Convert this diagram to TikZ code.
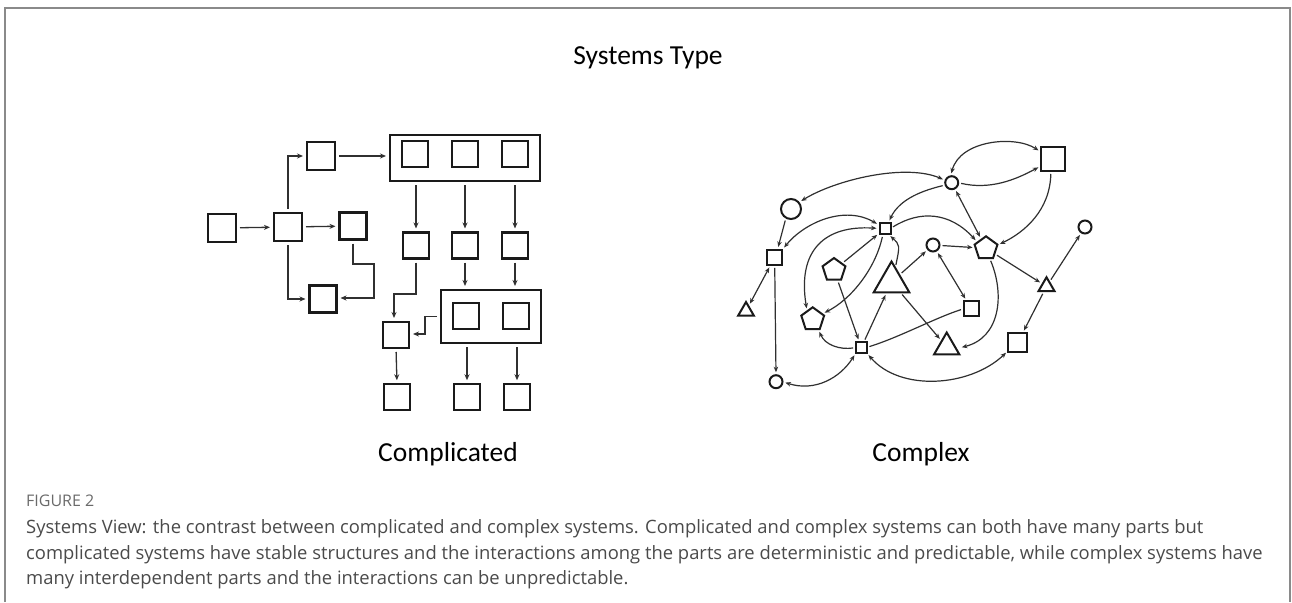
\documentclass[tikz,border=0pt]{standalone}
\usepackage{fontspec}
\setmainfont{Carlito}
\newfontfamily\capfont{Open Sans}
\usetikzlibrary{arrows.meta,shapes.geometric,calc}
\definecolor{ink}{HTML}{1A1A1A}
\definecolor{wire}{HTML}{303030}
\definecolor{framegray}{HTML}{8A8A8A}
\definecolor{captext}{HTML}{4A4A4A}
\definecolor{capgray}{HTML}{6A6A6A}

\begin{document}
\begin{tikzpicture}[x=1pt,y=-1pt,
  sq/.style={draw=ink,line width=2.4pt,minimum size=#1,inner sep=0pt,outer sep=0pt},
  grp/.style={draw=ink,line width=2.4pt,inner sep=0pt,outer sep=0pt},
  flow/.style={draw=wire,line width=1.3pt,shorten <=4pt,shorten >=4pt,
    -{Stealth[length=6pt,width=5pt]}},
  csq/.style={draw=ink,line width=2pt,minimum size=#1,inner sep=0pt,outer sep=0pt},
  ccirc/.style={draw=ink,line width=2pt,circle,minimum size=#1,inner sep=0pt,outer sep=0pt},
  cpent/.style={draw=ink,line width=2pt,regular polygon,regular polygon sides=5,
    minimum size=#1,inner sep=0pt,outer sep=0pt},
  ctri/.style={draw=ink,line width=2pt,regular polygon,regular polygon sides=3,
    minimum size=#1,inner sep=0pt,outer sep=0pt},
  rel/.style={draw=wire,line width=1.2pt,shorten <=3pt,shorten >=3pt,
    -{Stealth[length=5.5pt,width=4.5pt]}},
  mutual/.style={draw=wire,line width=1.2pt,shorten <=3pt,shorten >=3pt,
    {Stealth[length=5.5pt,width=4.5pt]}-{Stealth[length=5.5pt,width=4.5pt]}},
  tie/.style={draw=wire,line width=1.2pt,shorten <=3pt,shorten >=3pt},
  heading/.style={font=\fontsize{27.5}{33}\selectfont,text=black,inner sep=0pt,anchor=base},
  capline/.style={font=\capfont\fontsize{18.4}{22}\selectfont,text=captext,anchor=base west,inner sep=0pt}
]
\useasboundingbox (0,0) rectangle (1292,602);

% outer frame
\draw[framegray,line width=1.2pt] (5,602) -- (5,8) -- (1290,8) -- (1290,602);

\node[heading] (title) at (648,65) {Systems Type};

% ---------------- complicated system ----------------
\node[sq=28pt] (A) at (222,228) {};
\node[sq=28pt] (B) at (288,227) {};
\node[sq=27pt] (C) at (353,226) {};
\node[sq=28pt] (D) at (321,156) {};
\node[sq=27pt] (E) at (323,299) {};

\node[grp,minimum width=150pt,minimum height=46pt] (G1) at (465,158) {};
\node[sq=26pt] (g1a) at (415,154) {};
\node[sq=26pt] (g1b) at (465,154) {};
\node[sq=26pt] (g1c) at (515,154) {};

\node[sq=26pt] (r1) at (416,245.5) {};
\node[sq=26pt] (r2) at (465,245.5) {};
\node[sq=26pt] (r3) at (515,245.5) {};

\node[grp,minimum width=100pt,minimum height=53pt] (G2) at (491,316.5) {};
\node[sq=26pt] (h1) at (466,316) {};
\node[sq=26pt] (h2) at (516,316) {};

\node[sq=26pt] (F) at (396,335) {};
\node[sq=25.5pt] (b1) at (397,397) {};
\node[sq=25.5pt] (b2) at (467,397) {};
\node[sq=25.5pt] (b3) at (517,397) {};

\draw[flow] (A) -- (B);
\draw[flow] (B) -- (C);
\draw[flow] (B.north) |- (D.west);
\draw[flow] (B.south) |- (E.west);
\draw[flow] (C.south) -- (353,264) -- (374,264) -- (374,298) -- (E.east |- 0,298);
\draw[flow] (D.east) -- (D.east -| G1.west);
\draw[flow] (G1.south -| r1.north) -- (r1.north);
\draw[flow] (G1.south -| r2.north) -- (r2.north);
\draw[flow] (G1.south -| r3.north) -- (r3.north);
\draw[flow] (r2.south) -- (G2.north -| r2.south);
\draw[flow] (r3.south) -- (G2.north -| r3.south);
\draw[flow] (r1.south) -- (416,294) -- (394,294) -- (F.north -| 394,0);
\draw[flow] (G2.west) -- (425,316.5) -- (425,334) -- (F.east |- 0,334);
\draw[flow] (F.south) -- (b1.north);
\draw[flow] (G2.south -| b2.north) -- (b2.north);
\draw[flow] (G2.south -| b3.north) -- (b3.north);

\node[heading] (lblA) at (448,461) {Complicated};

% ---------------- complex system ----------------
\node[ccirc=20pt] (cL) at (791,209) {};
\node[ccirc=13pt] (cT) at (951.7,182.7) {};
\node[ccirc=13pt] (cM) at (933,245) {};
\node[ccirc=13pt] (cR) at (1085,227) {};
\node[ccirc=13pt] (cB) at (776,381.7) {};

\node[csq=15pt] (sL) at (774.7,257.3) {};
\node[csq=11pt] (sT) at (885,228.5) {};
\node[csq=15pt] (sM) at (971.3,308.7) {};
\node[csq=10.5pt] (sB) at (861.3,347.5) {};
\node[csq=24pt] (sQ) at (1053,159) {};
\node[csq=19pt] (sR) at (1017.7,342.7) {};

\node[cpent=24pt] (pU) at (834,270) {};
\node[cpent=24pt] (pL) at (812.7,319.3) {};
\node[cpent=24pt] (pR) at (986,248.3) {};

\node[ctri=41pt] (tB) at (891.5,282) {};
\node[ctri=29pt] (tM) at (946.7,347) {};
\node[ctri=18pt] (tL) at (746,311) {};
\node[ctri=18.5pt] (tR) at (1046.5,286.5) {};

\draw[mutual] (cL.40) .. controls (835,180) and (905,163) .. (cT.160);
\draw[rel] (cL.240) -- (sL.70);
\draw[mutual] (sL) -- (tL);
\draw[rel] (sL.south) -- (cB.north);
\draw[mutual] (sL.45) .. controls (805,222) and (845,205) .. (sT.150);
\draw[mutual] (sT.west) .. controls (825,225) and (797,250) .. (pL.125);
\draw[rel] (pU) -- (sT);
\draw[rel] (cT.200) .. controls (925,190) and (900,198) .. (sT.60);
\draw[rel] (sT.east) .. controls (920,210) and (950,212) .. (pR.145);
\draw[rel] (tB.75) .. controls (900,245) .. (sT.-60);
\draw[rel] (sT.250) .. controls (875,270) and (850,300) .. (pL.30);
\draw[rel] (pU) -- (sB);
\draw[rel] (sB) -- (tB);
\draw[rel] (sB.west) .. controls (840,350) and (825,345) .. (pL.-60);
\draw[mutual] (cB.east) .. controls (815,392) and (840,378) .. (sB.225);
\draw[tie] (sB.east) .. controls (900,337) and (935,318) .. (sM.west);
\draw[mutual] (sB.-45) .. controls (900,392) and (970,387) .. (sR.220);
\draw[rel] (tB) -- (tM);
\draw[rel] (tB) -- (cM);
\draw[rel] (cM) -- (pR);
\draw[mutual] (cM) -- (sM);
\draw[rel] (pR) -- (tR);
\draw[rel] (tR) -- (cR);
\draw[rel] (tR) -- (sR);
\draw[rel,shorten >=6pt] (pR.-70) .. controls (1005,295) and (1000,338) .. (tM.-10);
\draw[mutual] (cT) -- (pR);
\draw[rel] (cT.east) .. controls (990,190) and (1015,180) .. (sQ.210);
\draw[mutual] (cT.100) .. controls (960,140) and (1015,135) .. (sQ.150);
\draw[rel] (sQ.-100) .. controls (1050,210) and (1025,232) .. (pR.15);

\node[heading] (lblB) at (921,461) {Complex};

% ---------------- caption ----------------
\node[font=\capfont\fontsize{16}{19}\selectfont,text=capgray,anchor=base west,inner sep=0pt]
  (fig) at (26,506) {FIGURE 2};
\node[capline] (cap1) at (26,533) {Systems View: the contrast between complicated and complex systems. Complicated and complex systems can both have many parts but};
\node[capline] (cap2) at (26,559) {complicated systems have stable structures and the interactions among the parts are deterministic and predictable, while complex systems have};
\node[capline] (cap3) at (26,584) {many interdependent parts and the interactions can be unpredictable.};
\end{tikzpicture}
\end{document}
